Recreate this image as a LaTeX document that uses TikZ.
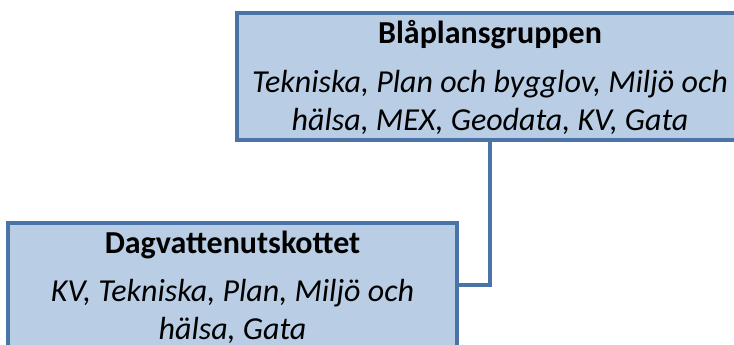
\documentclass[tikz,border=0pt]{standalone}
\usepackage{fontspec}
\setmainfont{Carlito}
\definecolor{boxfill}{HTML}{B9CDE5}
\definecolor{boxline}{HTML}{4A74A8}
\tikzset{
  box/.style={draw=boxline, fill=boxfill, line width=3.5pt, rectangle, inner sep=0pt},
  title/.style={font=\fontsize{32}{38}\selectfont\bfseries, inner sep=0pt},
  members/.style={font=\fontsize{32}{38}\selectfont\itshape, inner sep=0pt},
  link/.style={draw=boxline, line width=3.5pt}
}
\begin{document}
\begin{tikzpicture}[x=1pt,y=-1pt]
\useasboundingbox (0,0) rectangle (734,345);
\clip (0,0) rectangle (734,345);
\node[box, minimum width=506pt, minimum height=127pt] (top) at (490,76.5) {};
\node[box, minimum width=449pt, minimum height=124pt] (bot) at (232.5,285) {};
\draw[link] (top.south) |- (bot.east);
\node[title] (t1) at (490,35) {Blåplansgruppen};
\node[members] (t2) at (490,84) {Tekniska, Plan och bygglov, Miljö och};
\node[members] (t3) at (490,121) {hälsa, MEX, Geodata, KV, Gata};
\node[title] (b1) at (232.5,245) {Dagvattenutskottet};
\node[members] (b2) at (232.5,293) {KV, Tekniska, Plan, Miljö och};
\node[members] (b3) at (232.5,330) {hälsa, Gata};
\end{tikzpicture}
\end{document}
